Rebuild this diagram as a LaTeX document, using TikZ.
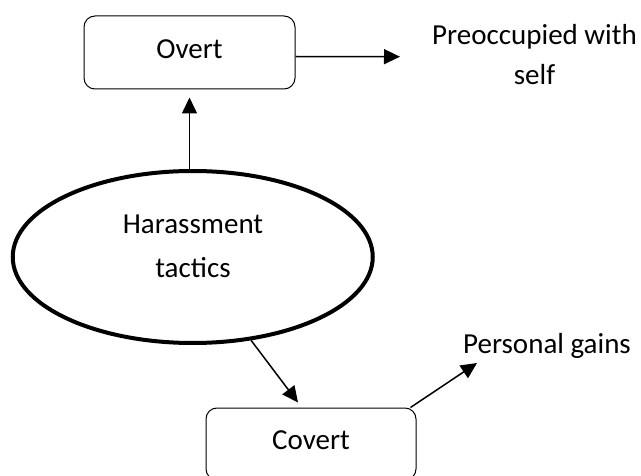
\documentclass[tikz,border=0pt]{standalone}
\usepackage{fontspec}
\setmainfont{Carlito}
\usetikzlibrary{shapes.geometric,arrows.meta,calc}
\begin{document}
\begin{tikzpicture}[x=1pt,y=-1pt,
  every node/.style={font=\fontsize{29}{40}\selectfont, inner sep=0pt},
  boxnode/.style={draw, line width=1pt, rounded corners=11pt, text depth=7pt},
  arr/.style={line width=1.5pt, -{Triangle[length=16pt,width=15pt]}}]
\useasboundingbox (0,0) rectangle (641,476);
\node[boxnode, minimum width=211pt, minimum height=73pt] (ov) at (189.5,52.5) {Overt};
\node[boxnode, minimum width=210pt, minimum height=72pt] (cov) at (311,444) {Covert};
\node[draw, ellipse, line width=4pt, minimum width=360pt, minimum height=172pt] (ell) at (192.75,257) {};
\node[align=center, font=\fontsize{29}{44}\selectfont] (ht) at (193,246) {Harassment\\tactics};
\node[align=center] (pre) at (534.5,55) {Preoccupied with\\self};
\node[anchor=base] (pg) at (547,354) {Personal gains};
\coordinate (pretip) at (400,56.7);
\coordinate (covtip) at ($(cov.north)+(-13,-5)$);
\coordinate (pgtip) at (477,363);
\draw[arr] (ell.north -| ov.south) -- ([yshift=-8pt]ov.south);
\draw[arr] ([yshift=-4pt]ov.east) -- (pretip);
\draw[arr] (ell.-55) -- (covtip);
\draw[arr] ([xshift=-6pt]cov.north east) -- (pgtip);
\end{tikzpicture}
\end{document}
